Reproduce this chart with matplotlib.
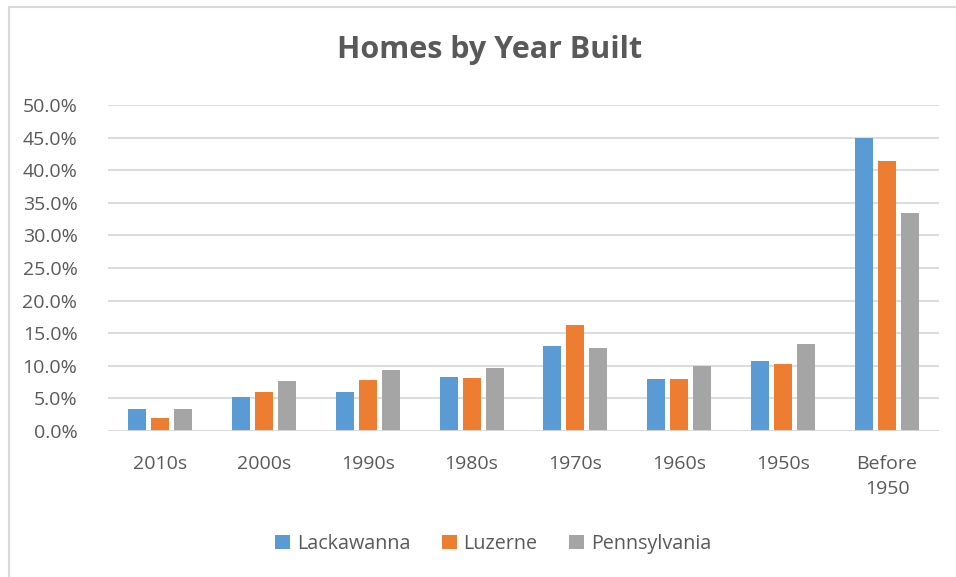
import matplotlib.pyplot as plt
import numpy as np
from matplotlib.lines import Line2D

categories = ["2010s", "2000s", "1990s", "1980s", "1970s", "1960s", "1950s", "Before\n1950"]
lackawanna = [3.4, 5.2, 6.0, 8.3, 13.1, 8.0, 10.8, 44.9]
luzerne = [2.0, 6.0, 7.8, 8.1, 16.3, 8.0, 10.2, 41.4]
pennsylvania = [3.4, 7.7, 9.4, 9.6, 12.8, 9.9, 13.4, 33.4]
series_names = ["Lackawanna", "Luzerne", "Pennsylvania"]
colors = ["#5B9BD5", "#ED7D31", "#A5A5A5"]

plt.rcParams['font.family'] = ['Open Sans', 'DejaVu Sans']
text_col = "#595959"
W, H = 956, 577

fig = plt.figure(figsize=(9.56, 5.77), dpi=100)
ax = fig.add_axes([108 / W, 1 - 431 / H, 831 / W, 326 / H])

x = np.arange(len(categories))
w = 0.173
step = 0.221
for i, (vals, name) in enumerate(zip([lackawanna, luzerne, pennsylvania], series_names)):
    ax.bar(x + (i - 1) * step, vals, width=w, color=colors[i], label=name, zorder=3)

ax.set_xlim(-0.5, len(categories) - 0.5)
ax.set_ylim(0, 50)
ax.set_yticks(np.arange(0, 51, 5))
ax.set_yticklabels([f"{v:.1f}%" for v in np.arange(0, 51, 5)], fontsize=14, color=text_col)
ax.set_xticks(x)
ax.set_xticklabels(categories, fontsize=14, color=text_col, linespacing=1.55)
ax.tick_params(axis='both', length=0)
ax.tick_params(axis='x', pad=17)
ax.tick_params(axis='y', pad=22)
ax.grid(axis='y', color="#D9D9D9", linewidth=1.3, zorder=0)
for s in ax.spines.values():
    s.set_visible(False)
ax.axhline(0, color="#D9D9D9", linewidth=1.3, zorder=4)

fig.text(490 / W, 1 - 50 / H, "Homes by Year Built", ha='center', va='center',
         fontsize=22, fontweight='bold', color=text_col)

handles, labels = ax.get_legend_handles_labels()
fig.legend(handles, labels, loc='center', bbox_to_anchor=(493 / W, 1 - 544 / H), ncol=3,
           frameon=False, fontsize=14.2, handlelength=0.75, handleheight=0.75,
           columnspacing=1.6, handletextpad=0.35, labelcolor=text_col)

# chart border (only left and top edges visible in the crop)
fig.add_artist(Line2D([8.5 / W, 8.5 / W], [0, 1 - 6.5 / H], transform=fig.transFigure,
                      color="#D9D9D9", linewidth=1.5))
fig.add_artist(Line2D([8.5 / W, 1], [1 - 6.5 / H, 1 - 6.5 / H], transform=fig.transFigure,
                      color="#D9D9D9", linewidth=1.5))

fig.savefig("out.png", dpi=100)
